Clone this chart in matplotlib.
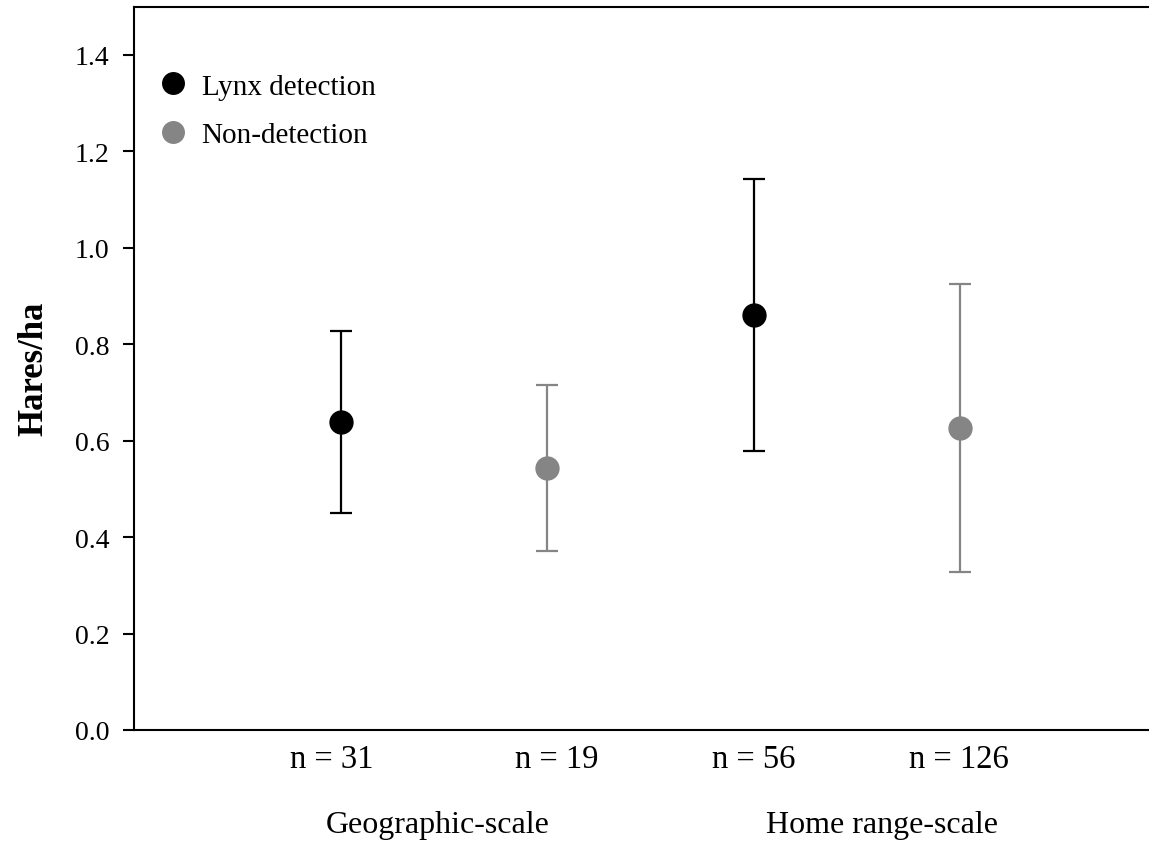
import matplotlib
matplotlib.use("Agg")
import matplotlib.pyplot as plt
from matplotlib.lines import Line2D
from matplotlib.transforms import blended_transform_factory

plt.rcParams['font.family'] = ['Liberation Serif', 'DejaVu Serif']

# Data
positions = [1, 2, 3, 4]
n_labels = ["n = 31", "n = 19", "n = 56", "n = 126"]
n_label_pos = [0.956, 2.047, 3.0, 3.995]
means = [0.638, 0.543, 0.861, 0.626]
upper = [0.828, 0.715, 1.143, 0.924]
lower = [0.450, 0.372, 0.579, 0.327]
groups = ["Lynx detection", "Non-detection", "Lynx detection", "Non-detection"]
scale_labels = ["Geographic-scale", "Home range-scale"]
scale_centers = [1.469, 3.62]
series_names = ["Lynx detection", "Non-detection"]
colors = {"Lynx detection": "#000000", "Non-detection": "#858585"}

fig = plt.figure(figsize=(11.49, 8.45), dpi=100)
ax = fig.add_axes([134/1149, (845-731)/845, 1 - 134/1149, (731-7.5)/845])

for x, m, lo, hi, g in zip(positions, means, lower, upper, groups):
    ax.errorbar([x], [m], yerr=[[m - lo], [hi - m]], fmt='o', color=colors[g],
                ecolor=colors[g], markersize=16.5, elinewidth=1.6, capsize=8,
                capthick=1.6, zorder=3)

ax.set_xlim(0, 4.913)
ax.set_ylim(0, 1.5)
yt = [0.0, 0.2, 0.4, 0.6, 0.8, 1.0, 1.2, 1.4]
ax.set_yticks(yt)
ax.set_yticklabels([f"{v:.1f}" for v in yt])
ax.set_xticks(n_label_pos)
ax.set_xticklabels(n_labels, fontsize=23.5)
ax.tick_params(axis='x', length=0, pad=10)
ax.tick_params(axis='y', length=8, width=1.5, labelsize=20, pad=9.5, direction='out')

for s in ['left', 'bottom', 'top']:
    ax.spines[s].set_linewidth(1.5)
ax.spines['right'].set_visible(False)

ax.set_ylabel("Hares/ha", fontsize=25, fontweight='bold', labelpad=18)

trans = blended_transform_factory(ax.transData, fig.transFigure)
for lab, cx in zip(scale_labels, scale_centers):
    ax.text(cx, (845-826)/845, lab, transform=trans, ha='center', va='center', fontsize=23)

handles = [Line2D([], [], marker='o', linestyle='none', color=colors[n], markersize=15.5)
           for n in series_names]
ax.legend(handles, series_names, loc='upper left', bbox_to_anchor=(-0.005, 0.944),
          frameon=False, fontsize=21, handletextpad=0.39, labelspacing=0.75,
          handlelength=1.2)

fig.savefig("out.png", dpi=100)
